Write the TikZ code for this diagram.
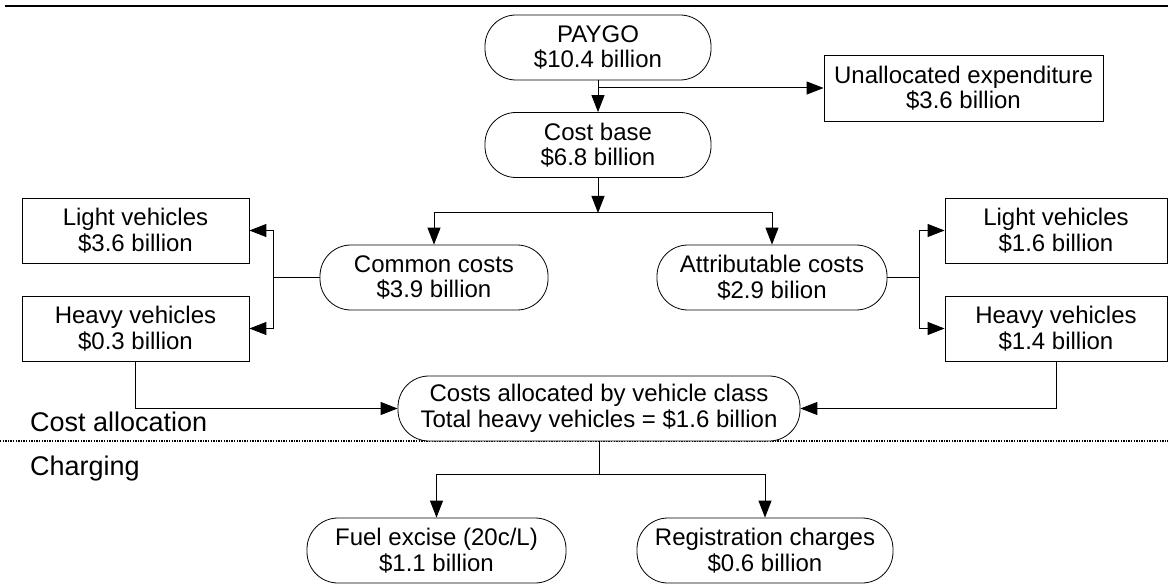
\documentclass[tikz,border=0pt]{standalone}
\usepackage{fontspec}
\setmainfont{Liberation Sans}
\usepackage{tikz}
\usetikzlibrary{arrows.meta, positioning, calc}
\newcommand{\nodefont}{\fontsize{24pt}{25.5pt}\selectfont}
\newcommand{\sectfont}{\fontsize{27pt}{30pt}\selectfont}

\begin{document}
\begin{tikzpicture}[x=1pt, y=-1pt,
  pill/.style={draw, line width=0.8pt, rounded corners=31pt, fill=white, inner sep=0pt, minimum height=65pt, align=center, font=\nodefont},
  costbox/.style={draw, line width=0.8pt, rectangle, fill=white, inner sep=0pt, minimum height=65pt, align=center, font=\nodefont},
  link/.style={line width=1pt},
  arr/.style={line width=1pt, -{Triangle[length=17pt, width=13pt]}},
  sect/.style={anchor=base west, inner sep=0pt, font=\sectfont}]
  \useasboundingbox (0,0) rectangle (1168,588);

  \draw[line width=2pt] (5,6) -- (1168,6);
  \draw[line width=1.3pt, dash pattern=on 1.3pt off 1.3pt] (0,441) -- (1168,441);

  \node[pill, minimum width=226pt] (paygo) at (598,47.5) {PAYGO\\\$10.4 billion};
  \node[pill, minimum width=226pt] (costbase) at (598,145) {Cost base\\\$6.8 billion};
  \node[costbox, minimum width=279pt, minimum height=66pt] (unalloc) at (963.5,88) {Unallocated expenditure\\\$3.6 billion};

  \node[pill, minimum width=228pt] (common) at (434,277.5) {Common costs\\\$3.9 billion};
  \node[pill, minimum width=230pt] (attrib) at (772,277.5) {Attributable costs\\\$2.9 bilion};

  \node[costbox, minimum width=227pt] (lightL) at (135.5,230.5) {Light vehicles\\\$3.6 billion};
  \node[costbox, minimum width=227pt] (heavyL) at (135.5,328.5) {Heavy vehicles\\\$0.3 billion};
  \node[costbox, minimum width=222pt] (lightR) at (1056,230.5) {Light vehicles\\\$1.6 billion};
  \node[costbox, minimum width=222pt] (heavyR) at (1056,328.5) {Heavy vehicles\\\$1.4 billion};

  \node[pill, minimum width=402pt] (alloc) at (599,408.5) {Costs allocated by vehicle class\\Total heavy vehicles = \$1.6 billion};

  \node[pill, minimum width=259pt] (fuel) at (436.5,550.5) {Fuel excise (20c/L)\\\$1.1 billion};
  \node[pill, minimum width=256pt] (reg) at (765,550.5) {Registration charges\\\$0.6 billion};

  \node[sect] (costlbl) at (30,431) {Cost allocation};
  \node[sect] (chglbl) at (30,475) {Charging};

  \coordinate (split1) at (598,213);
  \coordinate (jl) at (273,277.5);
  \coordinate (jr) at (919,277.5);
  \coordinate (split2) at (599,474);

  \draw[arr] (paygo) -- (costbase);
  \draw[arr] (paygo.south |- unalloc.west) -- (unalloc.west);
  \draw[arr] (costbase) -- (split1);
  \draw[arr] (split1) -| (common.north);
  \draw[arr] (split1) -| (attrib.north);

  \draw[link] (common.west) -- (jl);
  \draw[arr] (jl) |- (lightL.east);
  \draw[arr] (jl) |- (heavyL.east);
  \draw[link] (attrib.east) -- (jr);
  \draw[arr] (jr) |- (lightR.west);
  \draw[arr] (jr) |- (heavyR.west);

  \draw[arr] (heavyL.south) |- (alloc.west);
  \draw[arr] (heavyR.south) |- (alloc.east);

  \draw[link] (alloc) -- (split2);
  \draw[arr] (split2) -| (fuel.north);
  \draw[arr] (split2) -| (reg.north);
\end{tikzpicture}
\end{document}
